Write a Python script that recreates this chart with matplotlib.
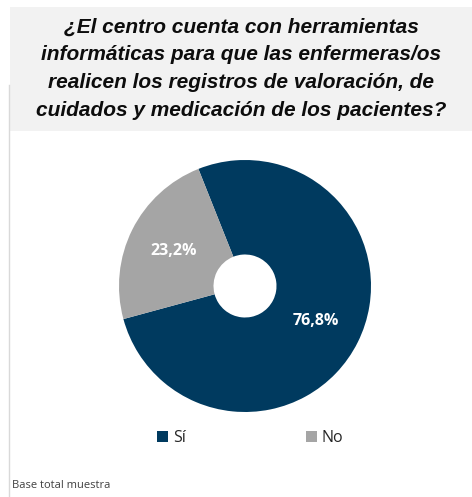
import matplotlib
matplotlib.use('Agg')
import matplotlib.pyplot as plt
from matplotlib.patches import Rectangle, Patch
from matplotlib.lines import Line2D

W, H = 472, 497

labels = ['Sí', 'No']
values = [76.8, 23.2]
colors = ['#003a5f', '#a5a5a5']

title = ('¿El centro cuenta con herramientas\n'
         'informáticas para que las enfermeras/os\n'
         'realicen los registros de valoración, de\n'
         'cuidados y medicación de los pacientes?')

fig = plt.figure(figsize=(W / 100, H / 100), dpi=100)
fig.patch.set_facecolor('white')

# grey title band and thin frame on the left
fig.patches.append(Rectangle((10 / W, 1 - 131 / H), 1 - 10 / W, 124 / H,
                             transform=fig.transFigure, facecolor='#f2f2f2',
                             edgecolor='none', zorder=0))
fig.lines.append(Line2D([9 / W, 9 / W], [0, 1 - 85 / H], transform=fig.transFigure,
                        color='#d9d9d9', lw=1))

fig.text((10 + W) / 2 / W, 1 - 69 / H, title, ha='center', va='center',
         fontsize=15, fontweight='bold', fontstyle='italic', family='Liberation Sans',
         color='#0d0d0d', linespacing=1.6)

# donut
cx, cy, r = 245, 286, 126
ax = fig.add_axes([(cx - r) / W, (H - cy - r) / H, 2 * r / W, 2 * r / H])
wedges, _, autotexts = ax.pie(values, colors=colors, startangle=111.7, counterclock=False,
                              autopct=lambda p: f'{p:.1f}%'.replace('.', ','),
                              pctdistance=0.63,
                              wedgeprops=dict(width=0.75, edgecolor='none'))
for t in autotexts:
    t.set_color('white')
    t.set_fontsize(11.5)
    t.set_fontweight('bold')
    t.set_family('Open Sans')
ax.set_xlim(-1, 1)
ax.set_ylim(-1, 1)
ax.set_aspect('equal')
ax.axis('off')

# legend
handles = [Patch(facecolor=c, edgecolor='none', label=l) for c, l in zip(colors, labels)]
fig.legend(handles=handles, loc='center', bbox_to_anchor=(250 / W, 1 - 438 / H),
           ncol=2, frameon=False, handlelength=0.7, handleheight=0.7,
           handletextpad=0.3, columnspacing=7.5,
           prop=dict(family='Open Sans', size=11.5))
for txt in fig.legends[0].get_texts():
    txt.set_color('#262626')

fig.text(12 / W, 1 - 486 / H, 'Base total muestra', ha='left', va='center',
         fontsize=8, family='Open Sans', color='#404040')

fig.savefig('out.png', dpi=100)
